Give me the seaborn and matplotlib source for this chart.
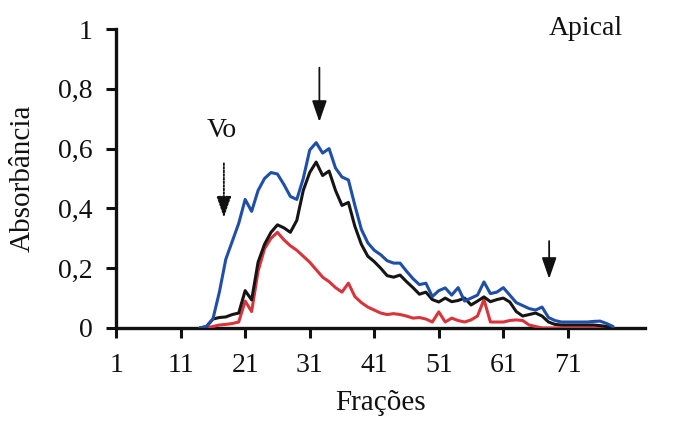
import numpy as np
import pandas as pd
import matplotlib
matplotlib.use("Agg")
import matplotlib.pyplot as plt
import seaborn as sns

# Elution profile: absorbance per fraction for three detections
fractions = list(range(14, 79))

blue_vals = [
    0.0, 0.005, 0.03, 0.12, 0.23, 0.29, 0.35, 0.43, 0.39, 0.46,
    0.50, 0.52, 0.515, 0.48, 0.44, 0.43, 0.50, 0.595, 0.62, 0.585,
    0.60, 0.535, 0.505, 0.495, 0.41, 0.33, 0.285, 0.26, 0.245, 0.225,
    0.217, 0.217, 0.19, 0.165, 0.145, 0.15, 0.105, 0.125, 0.134, 0.11,
    0.135, 0.09, 0.10, 0.11, 0.154, 0.115, 0.12, 0.135, 0.11, 0.085,
    0.075, 0.065, 0.06, 0.07, 0.035, 0.025, 0.02, 0.02, 0.02, 0.02,
    0.02, 0.022, 0.023, 0.015, 0.005,
]

black_vals = [
    0.0, 0.005, 0.03, 0.035, 0.037, 0.045, 0.05, 0.125, 0.094, 0.22,
    0.28, 0.32, 0.345, 0.335, 0.32, 0.36, 0.46, 0.52, 0.555, 0.51,
    0.525, 0.46, 0.41, 0.42, 0.34, 0.28, 0.24, 0.222, 0.20, 0.175,
    0.17, 0.177, 0.155, 0.135, 0.113, 0.12, 0.095, 0.087, 0.10, 0.088,
    0.092, 0.10, 0.077, 0.09, 0.104, 0.088, 0.095, 0.10, 0.087, 0.055,
    0.04, 0.045, 0.05, 0.04, 0.02, 0.012, 0.01, 0.01, 0.01, 0.01,
    0.01, 0.01, 0.008, 0.005, 0.0,
]

red_vals = [
    0.0, 0.0, 0.005, 0.01, 0.012, 0.015, 0.02, 0.09, 0.055, 0.19,
    0.265, 0.30, 0.32, 0.295, 0.275, 0.26, 0.24, 0.22, 0.195, 0.17,
    0.155, 0.135, 0.12, 0.15, 0.105, 0.085, 0.07, 0.06, 0.05, 0.045,
    0.048, 0.045, 0.04, 0.033, 0.035, 0.03, 0.02, 0.054, 0.02, 0.033,
    0.025, 0.02, 0.027, 0.04, 0.095, 0.02, 0.02, 0.02, 0.025, 0.027,
    0.025, 0.01, 0.005, 0.0, 0.0, 0.0, 0.0, 0.0, 0.0, 0.0,
    0.0, 0.0, 0.0, 0.0, 0.0,
]

x_ticks = [1, 11, 21, 31, 41, 51, 61, 71]
y_ticks = [0, 0.2, 0.4, 0.6, 0.8, 1]
y_tick_labels = ["0", "0,2", "0,4", "0,6", "0,8", "1"]

series_names = ["azul", "preto", "vermelho"]
series_colors = {"azul": "#1f4fa8", "preto": "#151515", "vermelho": "#d8343c"}

df = pd.DataFrame({
    "Frações": fractions * 3,
    "Absorbância": blue_vals + black_vals + red_vals,
    "serie": [series_names[0]] * len(fractions)
             + [series_names[1]] * len(fractions)
             + [series_names[2]] * len(fractions),
})

sns.set_style("ticks")
plt.rcParams["font.family"] = ["Liberation Serif", "DejaVu Serif"]

fig = plt.figure(figsize=(6.75, 4.23), dpi=100)
ax = fig.add_axes([0.172, 0.2246, 0.784, 0.7068])

sns.lineplot(data=df, x="Frações", y="Absorbância", hue="serie",
             hue_order=["vermelho", "preto", "azul"],
             palette=series_colors, linewidth=2.2, legend=False, ax=ax)

ax.set_xlim(1, 83)
ax.set_ylim(0, 1)
ax.set_xticks(x_ticks)
ax.set_xticklabels([str(t) for t in x_ticks])
ax.set_yticks(y_ticks)
ax.set_yticklabels(y_tick_labels)
ax.tick_params(axis="both", labelsize=20, width=2.2, color="#111111",
               labelcolor="#111111")
ax.tick_params(axis="x", length=7, pad=11)
ax.tick_params(axis="y", length=7, pad=10)

for side in ("top", "right"):
    ax.spines[side].set_visible(False)
for side in ("left", "bottom"):
    ax.spines[side].set_linewidth(2.4)
    ax.spines[side].set_color("#111111")
    ax.spines[side].set_zorder(1)

ax.set_xlabel("Frações", fontsize=21, labelpad=9, color="#111111")
ax.set_ylabel("Absorbância", fontsize=21, labelpad=16, color="#111111")

head = "-|>,head_width=0.45,head_length=1.3"

# Void volume marker
ax.text(17.4, 0.66, "Vo", fontsize=20, ha="center", va="center", color="#111111")
ax.annotate("", xy=(17.7, 0.36), xytext=(17.7, 0.56),
            arrowprops=dict(arrowstyle=head, linestyle=(0, (1, 1)),
                            lw=1.3, color="#111111"))

# Main peak marker
ax.annotate("", xy=(32.5, 0.68), xytext=(32.5, 0.88),
            arrowprops=dict(arrowstyle=head, lw=1.3, color="#111111"))

# Apical marker
ax.text(73.8, 1.003, "Apical", fontsize=20, ha="center", va="center",
        color="#111111", clip_on=False)
ax.annotate("", xy=(68.1, 0.155), xytext=(68.1, 0.30),
            arrowprops=dict(arrowstyle=head, lw=1.3, color="#111111"))

fig.savefig("out.png", dpi=100)
